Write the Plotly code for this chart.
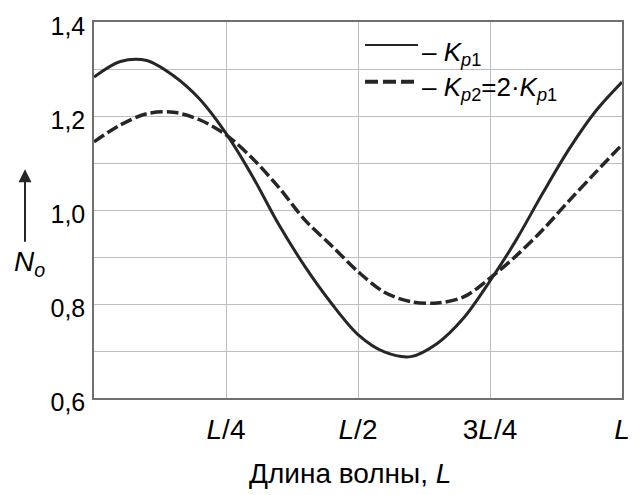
import plotly.graph_objects as go

# Data (x as fraction of wavelength L)
x_frac = [0.0, 0.05, 0.10, 0.15, 0.20, 0.25, 0.30, 0.35, 0.40, 0.45, 0.50,
          0.55, 0.60, 0.65, 0.70, 0.75, 0.80, 0.85, 0.90, 0.95, 1.00]
n_kp1 = [1.283, 1.316, 1.318, 1.286, 1.236, 1.163, 1.072, 0.969, 0.879, 0.801, 0.735,
         0.698, 0.688, 0.716, 0.770, 0.849, 0.937, 1.036, 1.130, 1.210, 1.272]
n_kp2 = [1.145, 1.181, 1.205, 1.208, 1.192, 1.160, 1.110, 1.048, 0.978, 0.924, 0.869,
         0.825, 0.805, 0.802, 0.815, 0.855, 0.903, 0.958, 1.020, 1.080, 1.139]

x_tickvals = [0.25, 0.5, 0.75, 1.0]
x_ticktext = ["<i>L</i>/4", "<i>L</i>/2", "3<i>L</i>/4", "<i>L</i>"]
y_tickvals = [0.6, 0.7, 0.8, 0.9, 1.0, 1.1, 1.2, 1.3, 1.4]
y_ticktext = ["0,6", "", "0,8", "", "1,0", "", "1,2", "", "1,4"]

FONT = "Liberation Sans, Arial, sans-serif"
INK = "#262626"
GRID = "#b9bfc7"
AXIS = "#707070"
FS = 28

fig = go.Figure()
fig.add_trace(go.Scatter(x=x_frac, y=n_kp1, mode="lines", line_shape="spline",
                         line=dict(color=INK, width=3, smoothing=0.9), showlegend=False))
fig.add_trace(go.Scatter(x=x_frac, y=n_kp2, mode="lines", line_shape="spline",
                         line=dict(color=INK, width=3.5, dash="12px,4px", smoothing=0.9),
                         showlegend=False))

L, R, T, B = 94, 21, 20, 97
W, H = 643, 495
pw, ph = W - L - R, H - T - B

def px(xp):
    return (xp - L) / pw

def py(yp):
    return (H - B - yp) / ph

shapes = [
    dict(type="rect", xref="paper", yref="paper", x0=px(359), x1=px(580), y0=py(100), y1=1.0,
         fillcolor="white", line=dict(width=0), layer="between"),
    dict(type="line", xref="paper", yref="paper", x0=px(365), x1=px(418), y0=py(43), y1=py(43),
         line=dict(color=INK, width=2)),
    dict(type="line", xref="paper", yref="paper", x0=px(365), x1=px(418), y0=py(80), y1=py(80),
         line=dict(color=INK, width=4, dash="13px,5px")),
]

annotations = [
    dict(xref="paper", yref="paper", x=px(420), y=py(52), xanchor="left", yanchor="middle",
         text="– <i>K</i><sub><i>p</i>1</sub>", showarrow=False,
         font=dict(family=FONT, size=26, color="black")),
    dict(xref="paper", yref="paper", x=px(420), y=py(87), xanchor="left", yanchor="middle",
         text="– <i>K</i><sub><i>p</i>2</sub>=2·<i>K</i><sub><i>p</i>1</sub>", showarrow=False,
         font=dict(family=FONT, size=26, color="black")),
    dict(xref="paper", yref="paper", x=px(350), y=py(474), xanchor="center", yanchor="middle",
         text="Длина волны, <i>L</i>", showarrow=False,
         font=dict(family=FONT, size=FS, color="black")),
    dict(xref="paper", yref="paper", x=px(25), y=py(168), ax=0, ay=74, axref="pixel", ayref="pixel",
         text="", showarrow=True, arrowhead=2, arrowsize=1.3, arrowwidth=2, arrowcolor=INK),
    dict(xref="paper", yref="paper", x=px(29), y=py(263), xanchor="center", yanchor="middle",
         text="<i>N<sub>o</sub></i>", showarrow=False,
         font=dict(family=FONT, size=FS, color="black")),
]

fig.update_layout(
    width=W, height=H,
    margin=dict(l=L, r=R, t=T, b=B),
    paper_bgcolor="white", plot_bgcolor="white",
    font=dict(family=FONT, size=FS, color="black"),
    shapes=shapes, annotations=annotations,
    showlegend=False,
)
fig.update_xaxes(range=[0, 1], tickvals=x_tickvals, ticktext=x_ticktext,
                 showgrid=True, gridcolor=GRID, gridwidth=1.2,
                 showline=True, linecolor=AXIS, linewidth=1.5, mirror=True,
                 ticks="", ticklabelstandoff=6, zeroline=False,
                 tickfont=dict(family=FONT, size=FS, color="black"))
fig.update_yaxes(range=[0.6, 1.4], tickvals=y_tickvals, ticktext=y_ticktext,
                 showgrid=True, gridcolor=GRID, gridwidth=1.2,
                 showline=True, linecolor=AXIS, linewidth=1.5, mirror=True,
                 ticks="", ticklabelstandoff=2, ticklabelshift=4, zeroline=False,
                 tickfont=dict(family=FONT, size=25, color="black"))

fig.write_html("out.html")
